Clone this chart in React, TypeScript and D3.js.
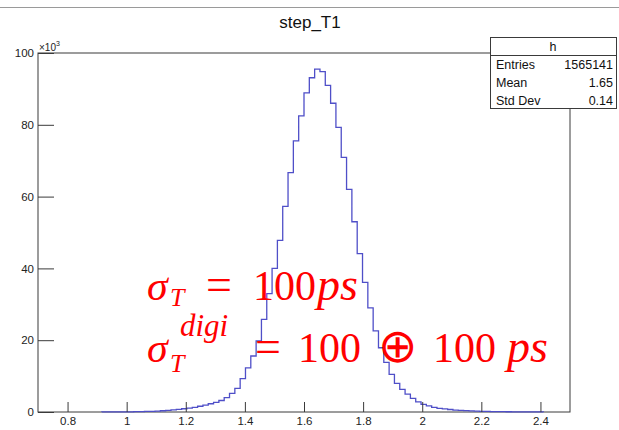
import React, { useEffect, useRef } from "react";
import * as d3 from "d3";

// histogram definition (ROOT TH1: 100 bins from 0.7 to 2.5)
const xLow = 0.7;
const xHigh = 2.5;
const nBins = 100;
const firstBin = 12;
// bin contents in units of 10^3, bins 12..94
const counts = [
  0.02, 0.03, 0.03, 0.04, 0.05, 0.06, 0.08, 0.1,
  0.15, 0.2, 0.25, 0.35, 0.45, 0.6, 0.75, 0.9, 1.1, 1.3,
  1.6, 1.9, 2.3, 2.7, 3.2, 4.0, 5.2, 6.6, 9.3, 12.3,
  15.6, 19.8, 25.8, 33, 40, 47.8, 57.3, 66.7, 75.5, 82.5,
  88.9, 93.1, 95.5, 94.8, 91, 86, 79.3, 70.9, 62, 53,
  44.1, 36.1, 29, 22.6, 17.9, 13.8, 10.5, 8.0, 6.3, 5.0,
  3.8, 2.8, 2.1, 1.7, 1.3, 1.0, 0.85, 0.7, 0.55, 0.45,
  0.38, 0.3, 0.25, 0.2, 0.16, 0.12, 0.1, 0.08, 0.07, 0.06,
  0.05, 0.04, 0.04, 0.03, 0.03,
];
const xTicks = [0.8, 1, 1.2, 1.4, 1.6, 1.8, 2, 2.2, 2.4];
const yTicks = [0, 20, 40, 60, 80, 100];
const statLabels = ["Entries", "Mean", "Std Dev"];
const statValues = ["1565141", "1.65", "0.14"];

const App = () => {
  const ref = useRef(null);

  useEffect(() => {
    const width = 619;
    const height = 430;
    const marginLeft = 38;
    const marginRight = 49;
    const marginTop = 53;
    const marginBottom = 18;

    const svg = d3.select(ref.current);
    svg.selectAll("*").remove();

    svg
      .append("rect")
      .attr("width", width)
      .attr("height", height)
      .attr("fill", "white");

    // top border of the canvas
    svg
      .append("line")
      .attr("x1", 0)
      .attr("x2", width)
      .attr("y1", 7.5)
      .attr("y2", 7.5)
      .attr("stroke", "#9a9a9a");

    const x = d3
      .scaleLinear()
      .domain([xLow, xHigh])
      .range([marginLeft, width - marginRight]);
    const y = d3
      .scaleLinear()
      .domain([0, 100])
      .range([height - marginBottom, marginTop]);

    // frame
    svg
      .append("rect")
      .attr("x", marginLeft)
      .attr("y", marginTop)
      .attr("width", width - marginRight - marginLeft)
      .attr("height", height - marginBottom - marginTop)
      .attr("fill", "none")
      .attr("stroke", "#3a3a3a");

    // histogram outline
    const bw = (xHigh - xLow) / nBins;
    const pts = [[xLow + firstBin * bw, 0]];
    counts.forEach((c, i) => {
      const x0 = xLow + (firstBin + i) * bw;
      pts.push([x0, c]);
      pts.push([x0 + bw, c]);
    });
    pts.push([xLow + (firstBin + counts.length) * bw, 0]);

    svg
      .append("path")
      .datum(pts)
      .attr("fill", "none")
      .attr("stroke", "#4f4fc8")
      .attr("stroke-width", 1.3)
      .attr(
        "d",
        d3
          .line()
          .x((d) => x(d[0]))
          .y((d) => y(d[1]))
      );

    const font = "'Liberation Sans', Arial, sans-serif";

    // x axis
    const gx = svg
      .append("g")
      .attr("transform", `translate(0,${height - marginBottom})`);
    gx.call(
      d3
        .axisBottom(x)
        .tickValues(d3.range(0, 37).map((i) => xLow + i * 0.05))
        .tickFormat("")
        .tickSize(-5)
        .tickSizeOuter(0)
    );
    gx.call(
      d3
        .axisBottom(x)
        .tickValues(xTicks)
        .tickFormat(d3.format(""))
        .tickSize(-10)
        .tickSizeOuter(0)
        .tickPadding(5)
    );
    gx.selectAll(".domain").remove();
    gx.selectAll("line").attr("stroke", "#3a3a3a");
    gx.selectAll("text")
      .attr("font-family", font)
      .attr("font-size", 11.5)
      .attr("fill", "#222");

    // y axis
    const gy = svg.append("g").attr("transform", `translate(${marginLeft},0)`);
    gy.call(
      d3
        .axisLeft(y)
        .tickValues(d3.range(0, 101, 5))
        .tickFormat("")
        .tickSize(-8)
        .tickSizeOuter(0)
    );
    gy.call(
      d3
        .axisLeft(y)
        .tickValues(yTicks)
        .tickSize(-16)
        .tickSizeOuter(0)
        .tickPadding(4)
    );
    gy.selectAll(".domain").remove();
    gy.selectAll("line").attr("stroke", "#3a3a3a");
    gy.selectAll("text")
      .attr("font-family", font)
      .attr("font-size", 11.5)
      .attr("fill", "#222");

    // exponent label
    const ex = svg
      .append("text")
      .attr("x", marginLeft + 1)
      .attr("y", marginTop - 2)
      .attr("font-family", font)
      .attr("font-size", 10)
      .attr("fill", "#222");
    ex.append("tspan").text("×10");
    ex.append("tspan").attr("dy", -5).attr("font-size", 7).text("3");

    // title
    svg
      .append("text")
      .attr("x", 310)
      .attr("y", 28)
      .attr("text-anchor", "middle")
      .attr("font-family", font)
      .attr("font-size", 17)
      .attr("fill", "#111")
      .text("step_T1");

    // stats box
    const box = svg.append("g");
    box
      .append("rect")
      .attr("x", 490.5)
      .attr("y", 37.5)
      .attr("width", 126)
      .attr("height", 71)
      .attr("fill", "white")
      .attr("stroke", "#3a3a3a");
    box
      .append("line")
      .attr("x1", 490.5)
      .attr("x2", 616.5)
      .attr("y1", 55.5)
      .attr("y2", 55.5)
      .attr("stroke", "#3a3a3a");
    box
      .append("text")
      .attr("x", 553)
      .attr("y", 51)
      .attr("text-anchor", "middle")
      .attr("font-family", font)
      .attr("font-size", 12.5)
      .attr("fill", "#111")
      .text("h");
    statLabels.forEach((l, i) => {
      box
        .append("text")
        .attr("x", 496)
        .attr("y", 69 + i * 18)
        .attr("font-family", font)
        .attr("font-size", 12.5)
        .attr("fill", "#111")
        .text(l);
      box
        .append("text")
        .attr("x", 613)
        .attr("y", 69 + i * 18)
        .attr("text-anchor", "end")
        .attr("font-family", font)
        .attr("font-size", 12.5)
        .attr("fill", "#111")
        .text(statValues[i]);
    });

    // red annotation
    const serif = "'Liberation Serif', 'Times New Roman', serif";
    const note = svg
      .append("g")
      .attr("fill", "#ff0000")
      .attr("font-family", serif);
    const put = (t, px, py, size, italic) =>
      note
        .append("text")
        .attr("x", px)
        .attr("y", py)
        .attr("font-size", size)
        .attr("font-style", italic ? "italic" : "normal")
        .text(t);
    // line 1
    put("σ", 147, 300, 42, true);
    put("T", 170, 306, 26, true);
    put("=", 206, 300, 46, false);
    put("100", 253, 300, 42, false);
    put("ps", 317, 300, 46, true);
    // line 2
    put("σ", 147, 362, 42, true);
    put("T", 170, 372, 26, true);
    put("digi", 180, 336, 31, true);
    put("=", 255, 362, 46, false);
    put("100", 298, 362, 42, false);
    note
      .append("text")
      .attr("x", 378)
      .attr("y", 362)
      .attr("font-family", "'DejaVu Sans', sans-serif")
      .attr("font-weight", 200)
      .attr("font-size", 47)
      .text("⊕");
    put("100", 433, 362, 42, false);
    put("ps", 507, 362, 46, true);
  }, []);

  return (
    <svg
      ref={ref}
      width={619}
      height={430}
      style={{ position: "absolute", left: 0, top: 0 }}
    ></svg>
  );
};

export default App;
